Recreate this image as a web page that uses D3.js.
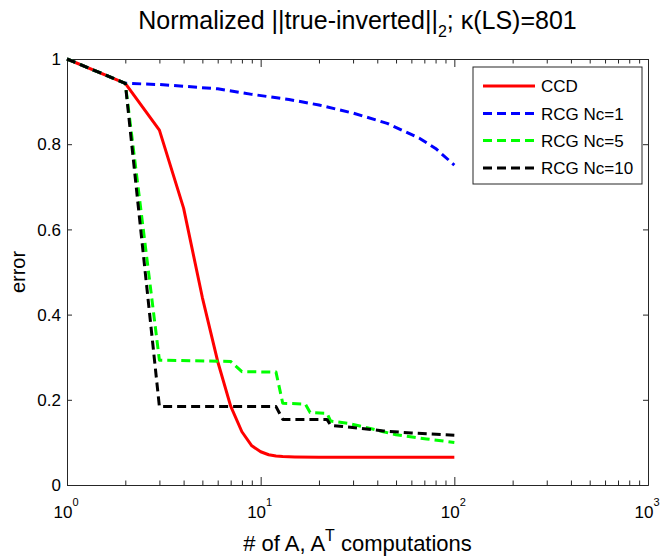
<!DOCTYPE html>
<html>
<head>
<meta charset="utf-8">
<script src="https://cdn.jsdelivr.net/npm/d3@7/dist/d3.min.js"></script>
<style>
  html, body { margin: 0; padding: 0; background: #fff; }
  svg text { font-family: "Liberation Sans", Arial, sans-serif; fill: #000; }
</style>
</head>
<body>
<svg id="chart" width="661" height="557"></svg>
<script>
// ---- data ----
const ccdX = [1, 2, 3, 4, 5, 6, 7, 8, 9, 10, 11, 12, 13, 15, 20, 30, 50, 100];
const ccdY = [1, 0.943, 0.833, 0.65, 0.44, 0.29, 0.185, 0.125, 0.092, 0.078, 0.071, 0.068, 0.067, 0.066, 0.065, 0.065, 0.065, 0.065];

const rcg1X = [1, 2, 3, 4, 6, 9, 14, 20, 30, 45, 66, 80, 100];
const rcg1Y = [1, 0.943, 0.940, 0.936, 0.930, 0.917, 0.905, 0.892, 0.873, 0.849, 0.814, 0.790, 0.751];

const rcg5X = [1, 2, 3, 7, 8, 12, 13, 17, 18, 22, 23, 28, 33, 43, 50, 72, 100];
const rcg5Y = [1, 0.943, 0.293, 0.29, 0.266, 0.265, 0.192, 0.19, 0.170, 0.168, 0.150, 0.145, 0.138, 0.125, 0.118, 0.108, 0.100];

const rcg10X = [1, 2, 3, 12, 13, 22, 23, 33, 43, 60, 100];
const rcg10Y = [1, 0.943, 0.184, 0.184, 0.154, 0.154, 0.140, 0.133, 0.127, 0.122, 0.117];

const seriesNames = ["CCD", "RCG Nc=1", "RCG Nc=5", "RCG Nc=10"];
const xMajorTicks = [1, 10, 100, 1000];
const xTickExponents = ["0", "1", "2", "3"];
const yTicks = [0, 0.2, 0.4, 0.6, 0.8, 1];
const yTickLabels = ["0", "0.2", "0.4", "0.6", "0.8", "1"];

// ---- styles ----
const colors = ["#ff0000", "#0000ff", "#00ff00", "#000000"];
const dashes = [null, "9,5", "9,5", "9,5"];

const svg = d3.select("#chart");
const L = 67, R = 648, T = 59, B = 485;
const x = d3.scaleLog().domain([1, 1000]).range([L, R]);
const y = d3.scaleLinear().domain([0, 1]).range([B, T]);

const axisColor = "#262626";

// minor ticks
const minor = [];
for (let d = 1; d < 1000; d *= 10) for (let k = 2; k <= 9; k++) minor.push(d * k);

svg.append("g").attr("transform", `translate(0,${B})`)
  .call(d3.axisBottom(x).tickValues(xMajorTicks).tickSize(-8).tickFormat("").tickSizeOuter(0));
svg.append("g").attr("transform", `translate(0,${B})`)
  .call(d3.axisBottom(x).tickValues(minor).tickSize(-4.5).tickFormat("").tickSizeOuter(0));
svg.append("g").attr("transform", `translate(0,${T})`)
  .call(d3.axisTop(x).tickValues(xMajorTicks).tickSize(-8).tickFormat("").tickSizeOuter(0));
svg.append("g").attr("transform", `translate(0,${T})`)
  .call(d3.axisTop(x).tickValues(minor).tickSize(-4.5).tickFormat("").tickSizeOuter(0));
svg.append("g").attr("transform", `translate(${L},0)`)
  .call(d3.axisLeft(y).tickValues(yTicks).tickSize(-5).tickFormat("").tickSizeOuter(0));
svg.append("g").attr("transform", `translate(${R},0)`)
  .call(d3.axisRight(y).tickValues(yTicks).tickSize(-5).tickFormat("").tickSizeOuter(0));

svg.selectAll(".domain").attr("stroke", axisColor).attr("stroke-width", 1);
svg.selectAll(".tick line").attr("stroke", axisColor).attr("stroke-width", 1);

// y tick labels
svg.append("g").selectAll("text").data(yTicks).join("text")
  .attr("x", L - 6).attr("y", d => y(d)).attr("dy", "0.36em")
  .attr("text-anchor", "end").style("font-size", "17px")
  .text((d, i) => yTickLabels[i]);

// x tick labels with superscripts
const xl = svg.append("g").selectAll("text").data(xMajorTicks).join("text")
  .attr("x", d => x(d) - 1).attr("y", 518)
  .attr("text-anchor", "middle").style("font-size", "17px");
xl.append("tspan").text("10");
xl.append("tspan").attr("dy", -12).style("font-size", "11px").text((d, i) => xTickExponents[i]);

// x label
const xlab = svg.append("text").attr("x", (L + R) / 2).attr("y", 551)
  .attr("text-anchor", "middle").style("font-size", "22px");
xlab.append("tspan").text("# of A, A");
xlab.append("tspan").attr("dy", -10).style("font-size", "16px").text("T");
xlab.append("tspan").attr("dy", 10).text(" computations");

// y label
svg.append("text").attr("transform", `translate(25,${(T + B) / 2}) rotate(-90)`)
  .attr("text-anchor", "middle").style("font-size", "20px").text("error");

// title
const title = svg.append("text").attr("x", (L + R) / 2).attr("y", 29)
  .attr("text-anchor", "middle").style("font-size", "25px");
title.append("tspan").text("Normalized ||true-inverted||");
title.append("tspan").attr("dy", 8).style("font-size", "16px").text("2");
title.append("tspan").attr("dy", -8).text("; \u03BA(LS)=801");

// lines
const series = [
  ccdX.map((v, i) => [v, ccdY[i]]),
  rcg1X.map((v, i) => [v, rcg1Y[i]]),
  rcg5X.map((v, i) => [v, rcg5Y[i]]),
  rcg10X.map((v, i) => [v, rcg10Y[i]])
];
const line = d3.line().x(d => x(d[0])).y(d => y(d[1]));
svg.append("g").selectAll("path").data(series).join("path")
  .attr("d", line)
  .attr("fill", "none")
  .attr("stroke", (d, i) => colors[i])
  .attr("stroke-width", 3)
  .attr("stroke-dasharray", (d, i) => dashes[i])
  .attr("stroke-linejoin", "round");

// legend
const lg = svg.append("g");
lg.append("rect").attr("x", 473).attr("y", 67).attr("width", 169).attr("height", 117)
  .attr("fill", "#fff").attr("stroke", axisColor).attr("stroke-width", 1);
const rowsY = [86, 113.5, 140.5, 168];
const rows = lg.selectAll("g.row").data(seriesNames).join("g").attr("class", "row")
  .attr("transform", (d, i) => `translate(0,${rowsY[i]})`);
rows.append("line").attr("x1", 483).attr("x2", 535).attr("y1", 0).attr("y2", 0)
  .attr("stroke", (d, i) => colors[i]).attr("stroke-width", 3)
  .attr("stroke-dasharray", (d, i) => dashes[i]);
rows.append("text").attr("x", 541).attr("y", 0).attr("dy", "0.36em")
  .style("font-size", "17px").text(d => d);
</script>
</body>
</html>
